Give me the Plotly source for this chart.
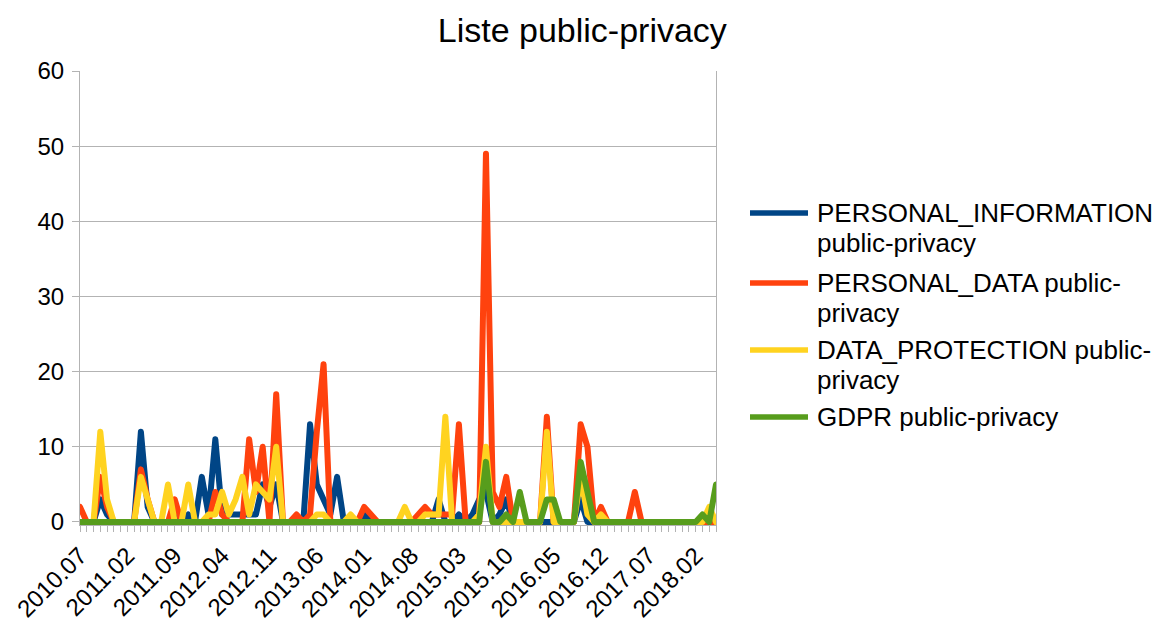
import plotly.graph_objects as go

months = [
    "2010.07", "2010.08", "2010.09", "2010.10", "2010.11", "2010.12",
    "2011.01", "2011.02", "2011.03", "2011.04", "2011.05", "2011.06", "2011.07", "2011.08", "2011.09", "2011.10", "2011.11", "2011.12",
    "2012.01", "2012.02", "2012.03", "2012.04", "2012.05", "2012.06", "2012.07", "2012.08", "2012.09", "2012.10", "2012.11", "2012.12",
    "2013.01", "2013.02", "2013.03", "2013.04", "2013.05", "2013.06", "2013.07", "2013.08", "2013.09", "2013.10", "2013.11", "2013.12",
    "2014.01", "2014.02", "2014.03", "2014.04", "2014.05", "2014.06", "2014.07", "2014.08", "2014.09", "2014.10", "2014.11", "2014.12",
    "2015.01", "2015.02", "2015.03", "2015.04", "2015.05", "2015.06", "2015.07", "2015.08", "2015.09", "2015.10", "2015.11", "2015.12",
    "2016.01", "2016.02", "2016.03", "2016.04", "2016.05", "2016.06", "2016.07", "2016.08", "2016.09", "2016.10", "2016.11", "2016.12",
    "2017.01", "2017.02", "2017.03", "2017.04", "2017.05", "2017.06", "2017.07", "2017.08", "2017.09", "2017.10", "2017.11", "2017.12",
    "2018.01", "2018.02", "2018.03", "2018.04", "2018.05",
]

tick_labels = ["2010.07", "2011.02", "2011.09", "2012.04", "2012.11", "2013.06", "2014.01",
               "2014.08", "2015.03", "2015.10", "2016.05", "2016.12", "2017.07", "2018.02"]

personal_information = [
    0, 0, 0, 3, 1, 0, 0, 0, 0, 12, 2, 0, 0, 0, 1, 0, 1, 0, 6, 1,
    11, 1, 1, 1, 1, 1, 1, 5, 2, 5, 0, 0, 0, 0, 13, 5, 3, 1, 6, 0,
    0, 0, 1, 0, 0, 0, 0, 0, 0, 0, 0, 0, 0, 3, 0, 0, 1, 0, 1, 3,
    4, 0, 1, 3, 0, 0, 0, 0, 0, 0, 0, 0, 0, 0, 3, 0, 0, 0, 0, 0,
    0, 0, 0, 0, 0, 0, 0, 0, 0, 0, 0, 0, 0, 0, 0,
]
personal_data = [
    2, 0, 0, 6, 2, 0, 0, 0, 0, 7, 3, 0, 0, 0, 3, 0, 0, 0, 0, 0,
    4, 1, 0, 0, 0, 11, 4, 10, 0, 17, 0, 0, 1, 0, 1, 12, 21, 0, 0, 0,
    0, 0, 2, 1, 0, 0, 0, 0, 0, 0, 1, 2, 1, 1, 1, 1, 13, 0, 0, 0,
    49, 4, 2, 6, 0, 0, 0, 0, 0, 14, 0, 0, 0, 0, 13, 10, 0, 2, 0, 0,
    0, 0, 4, 0, 0, 0, 0, 0, 0, 0, 0, 0, 0, 0, 0,
]
data_protection = [
    0, 0, 0, 12, 3, 0, 0, 0, 0, 6, 3, 0, 0, 5, 0, 0, 5, 0, 0, 1,
    1, 4, 1, 3, 6, 1, 5, 4, 3, 10, 0, 0, 0, 0, 0, 1, 1, 0, 0, 0,
    1, 0, 0, 0, 0, 0, 0, 0, 2, 0, 0, 1, 1, 1, 14, 0, 0, 0, 0, 1,
    10, 0, 0, 0, 0, 0, 0, 0, 0, 12, 0, 0, 0, 0, 6, 1, 0, 1, 0, 0,
    0, 0, 0, 0, 0, 0, 0, 0, 0, 0, 0, 0, 0, 2, 0,
]
gdpr = [
    0, 0, 0, 0, 0, 0, 0, 0, 0, 0, 0, 0, 0, 0, 0, 0, 0, 0, 0, 0,
    0, 0, 0, 0, 0, 0, 0, 0, 0, 0, 0, 0, 0, 0, 0, 0, 0, 0, 0, 0,
    0, 0, 0, 0, 0, 0, 0, 0, 0, 0, 0, 0, 0, 0, 0, 0, 0, 0, 0, 0,
    8, 0, 0, 1, 0, 4, 0, 0, 0, 3, 3, 0, 0, 0, 8, 4, 0, 0, 0, 0,
    0, 0, 0, 0, 0, 0, 0, 0, 0, 0, 0, 0, 1, 0, 5,
]

series_names = [
    ["PERSONAL_INFORMATION", "public-privacy"],
    ["PERSONAL_DATA public-", "privacy"],
    ["DATA_PROTECTION public-", "privacy"],
    ["GDPR public-privacy"],
]
series_values = [personal_information, personal_data, data_protection, gdpr]
series_colors = ["#004586", "#ff420e", "#ffd320", "#579d1c"]

FONT = "Liberation Sans, Arial, sans-serif"
GRID = "#b3b3b3"

# pixel geometry of plot area
PL, PR, PT, PB = 80, 716, 71, 525
W, H = 1160, 623


def px_x(px):
    return (px - PL) / (PR - PL)


def px_y(py):
    return (PB - py) / (PB - PT)


fig = go.Figure()
for names, vals, color in zip(series_names, series_values, series_colors):
    fig.add_trace(go.Scatter(
        x=months, y=vals, name=" ".join(names), mode="lines",
        line=dict(color=color, width=6),
        showlegend=False,
    ))

ticktext = [m if m in tick_labels else "" for m in months]

# manual legend (line samples + text lines)
legend_rows = [213, 283, 350, 417]
line_gap = 30
shapes = []
annotations = []
for names, color, ry in zip(series_names, series_colors, legend_rows):
    shapes.append(dict(type="line", xref="paper", yref="paper",
                       x0=px_x(750), x1=px_x(808), y0=px_y(ry), y1=px_y(ry),
                       line=dict(color=color, width=5.5)))
    for k, txt in enumerate(names):
        annotations.append(dict(text=txt, xref="paper", yref="paper",
                                x=px_x(815), y=px_y(ry + k * line_gap),
                                xanchor="left", yanchor="middle", showarrow=False,
                                font=dict(size=26, family=FONT, color="black")))

fig.update_layout(
    width=W, height=H,
    paper_bgcolor="white", plot_bgcolor="white",
    margin=dict(l=PL, r=W - PR, t=PT, b=H - PB, autoexpand=False),
    font=dict(family=FONT, color="black", size=24),
    title=dict(text="Liste public-privacy", x=0.502, xanchor="center",
               y=1 - 30 / 623, yanchor="middle", yref="container",
               font=dict(size=34, family=FONT, color="black")),
    showlegend=False,
    shapes=shapes,
    annotations=annotations,
    xaxis=dict(
        type="category", range=[0, len(months) - 1], automargin=False,
        tickmode="array", tickvals=months, ticktext=ticktext,
        tickangle=-45, ticks="outside", ticklen=6, tickcolor=GRID,
        showline=True, linecolor=GRID, linewidth=1,
        showgrid=False, zeroline=False,
        tickfont=dict(size=24, family=FONT, color="black"),
    ),
    yaxis=dict(
        range=[-0.4, 60], tickmode="array", tickvals=[0, 10, 20, 30, 40, 50, 60],
        automargin=False,
        ticks="outside", ticklen=7, tickcolor=GRID,
        showline=True, linecolor=GRID, linewidth=1, mirror=True,
        showgrid=True, gridcolor=GRID, gridwidth=1, zeroline=False,
        tickfont=dict(size=24, family=FONT, color="black"),
        ticklabelstandoff=3,
    ),
)

post = """
document.body.style.margin = '0';
document.body.style.padding = '0';
document.body.style.overflow = 'hidden';
var gd = document.getElementsByClassName('plotly-graph-div')[0];
function rnd(){
  document.querySelectorAll('.scatterlayer .js-line').forEach(function(p){
    p.style.strokeLinejoin = 'round';
    p.style.strokeLinecap = 'round';
  });
}
rnd();
if (gd && gd.on) { gd.on('plotly_afterplot', rnd); }
"""

fig.write_html("out.html", post_script=post, config={"displayModeBar": False})
